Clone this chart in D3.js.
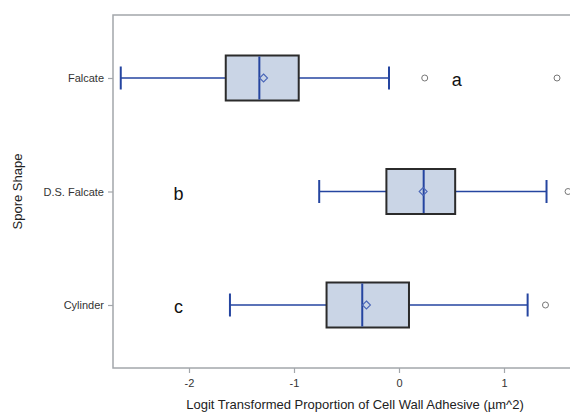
<!DOCTYPE html>
<html><head><meta charset="utf-8">
<script src="https://cdn.jsdelivr.net/npm/d3@7"></script>
<style>body{margin:0;background:#fff;} svg{display:block;font-family:"Liberation Sans",Arial,sans-serif;}</style>
</head><body>
<svg id="c" width="570" height="414"></svg>
<script>
const categories = ["Falcate", "D.S. Falcate", "Cylinder"];
const whiskerLow  = [-2.65, -0.76, -1.61];
const q1          = [-1.65, -0.12, -0.69];
const median      = [-1.33, 0.235, -0.35];
const mean        = [-1.29, 0.23, -0.31];
const q3          = [-0.955, 0.535, 0.095];
const whiskerHigh = [-0.095, 1.405, 1.225];
const outliers    = [[0.245, 1.505], [1.61], [1.395]];
const groupLetters = [{cat:"Falcate", x:0.55, t:"a"}, {cat:"D.S. Falcate", x:-2.1, t:"b"}, {cat:"Cylinder", x:-2.1, t:"c"}];
const xTicks = [-2, -1, 0, 1];

const svg = d3.select("#c");
const L = 113, T = 15, B = 368, R = 600;
const x = d3.scaleLinear().domain([-2, 1]).range([189, 504]);
const y = d3.scalePoint().domain(categories).range([78, 305]);

const blue = "#2545a0";
const boxH = 45, capH = 23;

// frame
svg.append("rect").attr("x", L).attr("y", T).attr("width", R - L).attr("height", B - T)
  .attr("fill", "none").attr("stroke", "#a3a7ab").attr("stroke-width", 1.5);

// x axis
const xAxis = d3.axisBottom(x).tickValues(xTicks).tickSize(5).tickPadding(6).tickFormat(d => String(d));
const gx = svg.append("g").attr("transform", `translate(0,${B})`).call(xAxis);
gx.select(".domain").remove();
gx.selectAll("line").attr("stroke", "#a3a7ab").attr("stroke-width", 1.2);
gx.selectAll("text").attr("font-size", 11).attr("fill", "#333").attr("font-family", "Liberation Sans, Arial, sans-serif");

// y axis
const yAxis = d3.axisLeft(y).tickSize(5).tickPadding(4);
const gy = svg.append("g").attr("transform", `translate(${L},0)`).call(yAxis);
gy.select(".domain").remove();
gy.selectAll("line").attr("stroke", "#a3a7ab").attr("stroke-width", 1.2);
gy.selectAll("text").attr("font-size", 11).attr("fill", "#333").attr("font-family", "Liberation Sans, Arial, sans-serif");

// titles
svg.append("text").attr("x", 355).attr("y", 409).attr("text-anchor", "middle")
  .attr("font-size", 13).attr("fill", "#222").text("Logit Transformed Proportion of Cell Wall Adhesive (\u00b5m^2)");
svg.append("text").attr("transform", "translate(22,191.5) rotate(-90)").attr("text-anchor", "middle")
  .attr("font-size", 13).attr("fill", "#222").text("Spore Shape");

const g = svg.append("g");
categories.forEach((c, i) => {
  const cy = y(c);
  // whiskers
  g.append("line").attr("x1", x(whiskerLow[i])).attr("x2", x(q1[i])).attr("y1", cy).attr("y2", cy)
    .attr("stroke", blue).attr("stroke-width", 1.5);
  g.append("line").attr("x1", x(q3[i])).attr("x2", x(whiskerHigh[i])).attr("y1", cy).attr("y2", cy)
    .attr("stroke", blue).attr("stroke-width", 1.5);
  [whiskerLow[i], whiskerHigh[i]].forEach(v => {
    g.append("line").attr("x1", x(v)).attr("x2", x(v)).attr("y1", cy - capH / 2).attr("y2", cy + capH / 2)
      .attr("stroke", blue).attr("stroke-width", 2);
  });
  // box
  g.append("rect").attr("x", x(q1[i])).attr("y", cy - boxH / 2).attr("width", x(q3[i]) - x(q1[i])).attr("height", boxH)
    .attr("fill", "#cad5e6").attr("stroke", "#2b2b2b").attr("stroke-width", 2);
  // median
  g.append("line").attr("x1", x(median[i])).attr("x2", x(median[i])).attr("y1", cy - boxH / 2 + 1).attr("y2", cy + boxH / 2 - 1)
    .attr("stroke", blue).attr("stroke-width", 2);
  // mean diamond
  const mx = x(mean[i]), d = 4;
  g.append("path").attr("d", `M${mx},${cy - d}L${mx + d},${cy}L${mx},${cy + d}L${mx - d},${cy}Z`)
    .attr("fill", "none").attr("stroke", "#4a66b8").attr("stroke-width", 1.1);
  // outliers
  outliers[i].forEach(v => {
    g.append("circle").attr("cx", x(v)).attr("cy", cy).attr("r", 3)
      .attr("fill", "none").attr("stroke", "#777").attr("stroke-width", 1);
  });
});

groupLetters.forEach(l => {
  svg.append("text").attr("x", x(l.x)).attr("y", y(l.cat) + 8).attr("text-anchor", "middle")
    .attr("font-size", 18).attr("fill", "#111").text(l.t);
});
</script>
</body></html>
